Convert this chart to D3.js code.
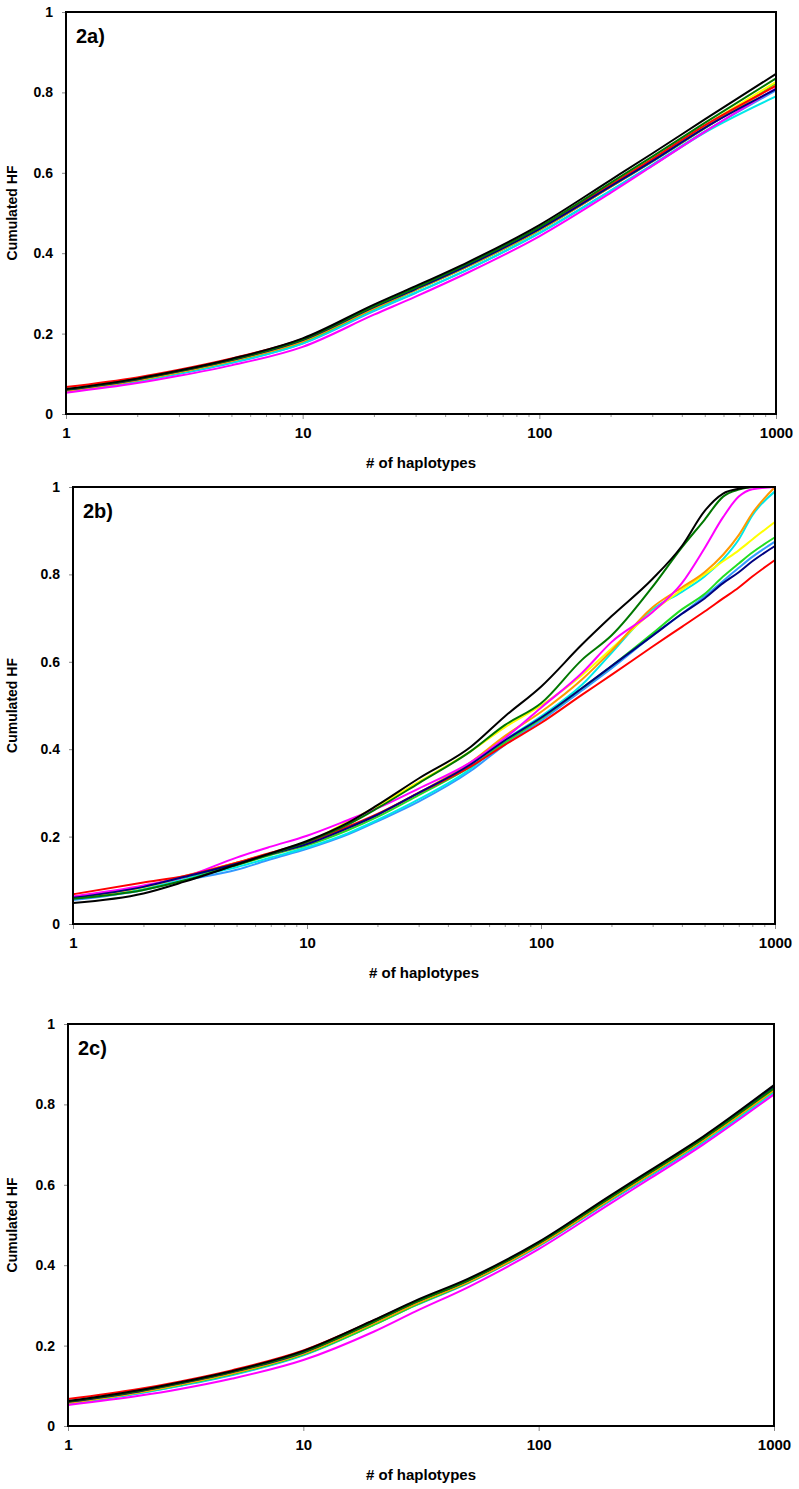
<!DOCTYPE html>
<html>
<head>
<meta charset="utf-8">
<script src="https://cdn.jsdelivr.net/npm/d3@7"></script>
<style>
  html, body { margin: 0; padding: 0; background: #fff; }
  svg { display: block; }
  text { font-family: "Liberation Sans", Arial, sans-serif; font-weight: bold; fill: #000; }
</style>
</head>
<body>
<svg id="chart" width="799" height="1489"></svg>
<script>
// ---------- data ----------
const seriesNames = ["dodger", "cyan", "lime", "yellow", "orange", "magenta", "red", "navy", "darkgreen", "black"];
const seriesColors = ["#3399ff", "#00e8e8", "#22dd22", "#ffff00", "#ff9900", "#ff00ff", "#ff0000", "#000080", "#007700", "#000000"];

const yTicks = [0, 0.2, 0.4, 0.6, 0.8, 1];
const xMajorTicks = [1, 10, 100, 1000];
const xMinorTicks = [2,3,4,5,6,7,8,9,20,30,40,50,60,70,80,90,200,300,400,500,600,700,800,900];

// haplotype counts for panels 2a and 2c
const nAC = [1, 2, 3, 5, 10, 20, 30, 50, 100, 200, 300, 500, 1000];
// haplotype counts for panel 2b
const nB = [1, 2, 3, 5, 7, 10, 15, 20, 30, 50, 70, 100, 150, 200, 300, 400, 500, 600, 700, 800, 1000];

// Panel 2a (order follows seriesNames)
const a_dodger    = [0.055,0.081,0.100,0.127,0.175,0.256,0.301,0.360,0.450,0.556,0.620,0.703,0.805];
const a_cyan      = [0.056,0.082,0.101,0.128,0.176,0.258,0.302,0.360,0.450,0.555,0.618,0.700,0.790];
const a_lime      = [0.057,0.084,0.104,0.132,0.180,0.262,0.308,0.367,0.457,0.565,0.628,0.711,0.822];
const a_yellow    = [0.058,0.085,0.105,0.133,0.183,0.266,0.312,0.372,0.462,0.570,0.634,0.717,0.826];
const a_orange    = [0.058,0.084,0.104,0.132,0.181,0.263,0.309,0.368,0.458,0.565,0.629,0.712,0.818];
const a_magenta   = [0.053,0.077,0.095,0.121,0.167,0.247,0.292,0.352,0.442,0.550,0.617,0.702,0.810];
const a_red       = [0.067,0.091,0.110,0.138,0.187,0.268,0.313,0.372,0.462,0.570,0.634,0.718,0.816];
const a_navy      = [0.060,0.086,0.106,0.134,0.184,0.266,0.311,0.370,0.460,0.566,0.629,0.712,0.808];
const a_darkgreen = [0.061,0.087,0.107,0.135,0.185,0.268,0.314,0.374,0.465,0.575,0.640,0.724,0.835];
const a_black     = [0.062,0.088,0.108,0.137,0.188,0.272,0.318,0.378,0.470,0.582,0.648,0.733,0.846];

// Panel 2b
const b_dodger    = [0.055,0.078,0.100,0.124,0.148,0.172,0.205,0.235,0.280,0.350,0.410,0.465,0.535,0.585,0.660,0.710,0.750,0.785,0.815,0.840,0.875];
const b_cyan      = [0.058,0.080,0.105,0.130,0.152,0.175,0.208,0.238,0.285,0.355,0.420,0.475,0.548,0.620,0.720,0.760,0.795,0.835,0.880,0.935,0.990];
const b_lime      = [0.062,0.086,0.108,0.135,0.158,0.180,0.215,0.245,0.295,0.360,0.415,0.470,0.540,0.590,0.665,0.720,0.755,0.795,0.825,0.850,0.885];
const b_yellow    = [0.060,0.084,0.108,0.140,0.162,0.186,0.235,0.270,0.325,0.395,0.450,0.500,0.570,0.630,0.715,0.765,0.800,0.830,0.855,0.880,0.920];
const b_orange    = [0.060,0.085,0.110,0.140,0.160,0.183,0.220,0.250,0.300,0.370,0.430,0.485,0.560,0.625,0.725,0.770,0.805,0.845,0.890,0.940,1.000];
const b_magenta   = [0.063,0.088,0.108,0.152,0.177,0.202,0.238,0.265,0.310,0.370,0.425,0.495,0.575,0.645,0.714,0.780,0.860,0.931,0.978,0.995,1.000];
const b_red       = [0.068,0.095,0.110,0.140,0.163,0.187,0.223,0.252,0.300,0.360,0.410,0.460,0.525,0.570,0.635,0.680,0.715,0.745,0.770,0.795,0.833];
const b_navy      = [0.060,0.085,0.108,0.138,0.160,0.183,0.220,0.250,0.300,0.365,0.420,0.472,0.540,0.590,0.660,0.710,0.745,0.780,0.805,0.830,0.865];
const b_darkgreen = [0.058,0.078,0.100,0.135,0.160,0.188,0.228,0.265,0.322,0.395,0.455,0.505,0.605,0.660,0.772,0.862,0.925,0.978,0.994,1.000,1.000];
const b_black     = [0.048,0.070,0.097,0.136,0.162,0.190,0.232,0.272,0.333,0.405,0.475,0.543,0.640,0.704,0.790,0.865,0.945,0.985,0.996,1.000,1.000];

// Panel 2c
const c_dodger    = [0.055,0.081,0.100,0.127,0.176,0.252,0.300,0.355,0.447,0.559,0.623,0.705,0.826];
const c_cyan      = [0.056,0.082,0.101,0.128,0.177,0.254,0.302,0.357,0.449,0.561,0.625,0.707,0.830];
const c_lime      = [0.057,0.083,0.102,0.129,0.178,0.252,0.301,0.356,0.449,0.562,0.627,0.710,0.835];
const c_yellow    = [0.058,0.084,0.104,0.132,0.181,0.257,0.305,0.359,0.451,0.564,0.629,0.712,0.838];
const c_orange    = [0.058,0.084,0.104,0.131,0.180,0.256,0.304,0.358,0.450,0.563,0.628,0.711,0.836];
const c_magenta   = [0.052,0.075,0.092,0.118,0.164,0.235,0.285,0.345,0.440,0.552,0.617,0.700,0.825];
const c_red       = [0.067,0.092,0.111,0.139,0.188,0.263,0.310,0.363,0.455,0.568,0.633,0.716,0.842];
const c_navy      = [0.060,0.086,0.106,0.134,0.183,0.260,0.308,0.362,0.455,0.568,0.633,0.716,0.843];
const c_darkgreen = [0.061,0.087,0.107,0.135,0.184,0.260,0.308,0.362,0.454,0.567,0.632,0.715,0.840];
const c_black     = [0.062,0.089,0.109,0.137,0.187,0.264,0.312,0.366,0.458,0.572,0.637,0.720,0.848];

const panelLabels = ["2a)", "2b)", "2c)"];
const xTitle = "# of haplotypes";
const yTitle = "Cumulated HF";

// ---------- layout ----------
const panels = [
  { label: panelLabels[0], n: nAC, x0: 66, x1: 776, y0: 12,   y1: 414,  minor: true,
    series: [a_dodger, a_cyan, a_lime, a_yellow, a_orange, a_magenta, a_red, a_navy, a_darkgreen, a_black] },
  { label: panelLabels[1], n: nB,  x0: 73, x1: 775, y0: 487,  y1: 924,  minor: true,
    series: [b_dodger, b_cyan, b_lime, b_yellow, b_orange, b_magenta, b_red, b_navy, b_darkgreen, b_black] },
  { label: panelLabels[2], n: nAC, x0: 68, x1: 774, y0: 1024, y1: 1426, minor: false,
    series: [c_dodger, c_cyan, c_lime, c_yellow, c_orange, c_magenta, c_red, c_navy, c_darkgreen, c_black] }
];

const svg = d3.select("#chart");

panels.forEach(p => {
  const x = d3.scaleLog().domain([1, 1000]).range([p.x0, p.x1]);
  const y = d3.scaleLinear().domain([0, 1]).range([p.y1, p.y0]);
  const g = svg.append("g");

  // y axis ticks
  const yAx = g.append("g").attr("transform", `translate(${p.x0},0)`)
    .call(d3.axisLeft(y).tickValues(yTicks).tickSize(4).tickPadding(9).tickFormat(d3.format("~g")));
  yAx.select(".domain").remove();
  yAx.selectAll("line").attr("stroke", "#888");
  yAx.selectAll("text").style("font-size", "14px").attr("font-family", null);

  // x axis major ticks
  const xAx = g.append("g").attr("transform", `translate(0,${p.y1})`)
    .call(d3.axisBottom(x).tickValues(xMajorTicks).tickSize(5).tickPadding(8).tickFormat(d3.format("d")));
  xAx.select(".domain").remove();
  xAx.selectAll("line").attr("stroke", "#888");
  xAx.selectAll("text").style("font-size", "15px").attr("font-family", null);

  if (p.minor) {
    const xMin = g.append("g").attr("transform", `translate(0,${p.y1})`)
      .call(d3.axisBottom(x).tickValues(xMinorTicks).tickSize(3).tickFormat(""));
    xMin.select(".domain").remove();
    xMin.selectAll("line").attr("stroke", "#999");
  }

  // lines
  const line = d3.line()
    .x((d, i) => x(p.n[i]))
    .y(d => y(d))
    .curve(d3.curveMonotoneX);

  p.series.forEach((s, k) => {
    g.append("path")
      .datum(s)
      .attr("d", line)
      .attr("fill", "none")
      .attr("stroke", seriesColors[k])
      .attr("stroke-width", 2)
      .attr("stroke-linejoin", "round");
  });

  // frame
  g.append("rect")
    .attr("x", p.x0).attr("y", p.y0)
    .attr("width", p.x1 - p.x0).attr("height", p.y1 - p.y0)
    .attr("fill", "none").attr("stroke", "#000").attr("stroke-width", 2);

  // panel label
  g.append("text").attr("x", p.x0 + 10).attr("y", p.y0 + 31)
    .style("font-size", "20px").text(p.label);

  // axis titles
  g.append("text")
    .attr("x", (p.x0 + p.x1) / 2).attr("y", p.y1 + 54)
    .attr("text-anchor", "middle").style("font-size", "15px").text(xTitle);

  g.append("text")
    .attr("transform", `translate(17,${(p.y0 + p.y1) / 2}) rotate(-90)`)
    .attr("text-anchor", "middle").style("font-size", "14px").text(yTitle);
});
</script>
</body>
</html>
